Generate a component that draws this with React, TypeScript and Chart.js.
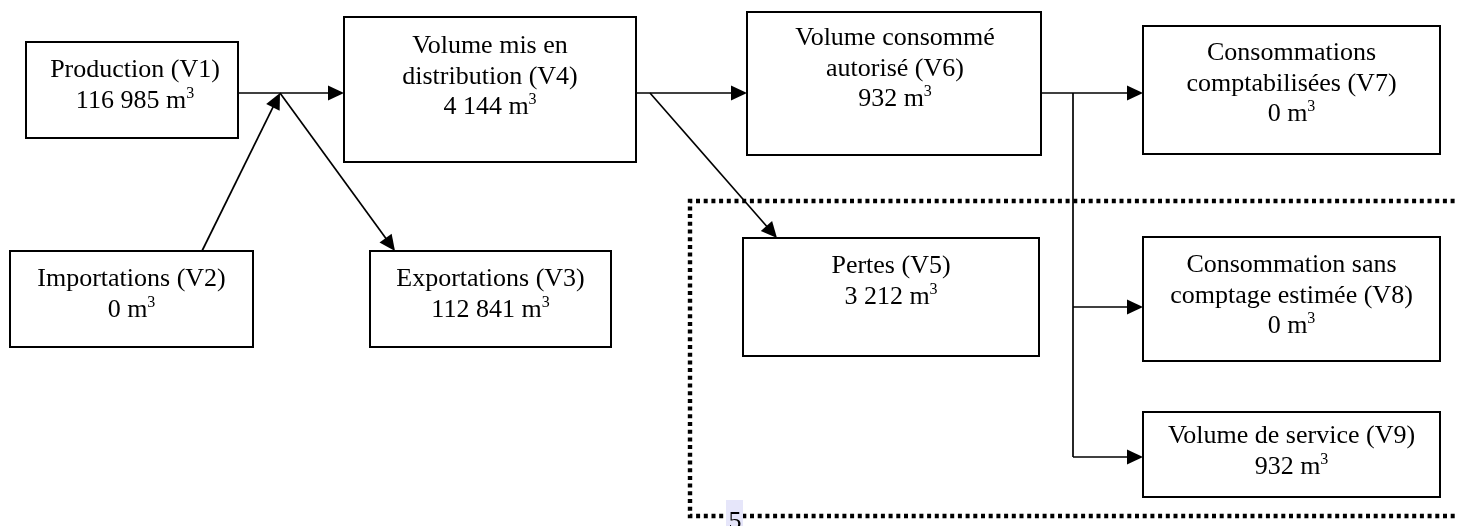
import React, { useEffect, useRef } from "react";
import { Chart, registerables } from "chart.js";

Chart.register(...registerables);

// ---- Data ----
const NODE_IDS = ["V1", "V2", "V3", "V4", "V5", "V6", "V7", "V8", "V9"];
const NODE_LABELS: string[][] = [
  ["Production (V1)"],
  ["Importations (V2)"],
  ["Exportations (V3)"],
  ["Volume mis en", "distribution (V4)"],
  ["Pertes (V5)"],
  ["Volume consommé", "autorisé (V6)"],
  ["Consommations", "comptabilisées (V7)"],
  ["Consommation sans", "comptage estimée (V8)"],
  ["Volume de service (V9)"],
];
const NODE_VALUES = [116985, 0, 112841, 4144, 3212, 932, 0, 0, 932];
const UNIT = "m";
const UNIT_EXP = "3";
const PAGE_NUMBER = "5";

// ---- Layout (diagram coordinates, same units as the hidden scales) ----
const BOX_LAYOUT: Record<string, [number, number, number, number, number, number]> = {
  // left, top, right, bottom, first-baseline offset, text x shift
  V1: [26, 42, 238, 138, 35, 3],
  V2: [10, 251, 253, 347, 35, 0],
  V3: [370, 251, 611, 347, 35, 0],
  V4: [344, 17, 636, 162, 36, 0],
  V5: [743, 238, 1039, 356, 35, 0],
  V6: [747, 12, 1041, 155, 33, 1],
  V7: [1143, 26, 1440, 154, 34, 0],
  V8: [1143, 237, 1440, 361, 35, 0],
  V9: [1143, 412, 1440, 497, 31, 0],
};
const CONNECTORS: [number, number, number, number, boolean][] = [
  [238, 93, 344, 93, true],
  [202, 251, 280, 93, true],
  [280, 93, 395, 251, true],
  [636, 93, 747, 93, true],
  [650, 93, 777, 238, true],
  [1041, 93, 1143, 93, true],
  [1073, 93, 1073, 457, false],
  [1073, 307, 1143, 307, true],
  [1073, 457, 1143, 457, true],
];
const DOTTED_FRAME: [number, number][] = [
  [1470, 201],
  [690, 201],
  [690, 516],
  [1470, 516],
];

const W = 1458;
const H = 526;
const FONT = '"Liberation Serif", "Times New Roman", serif';
const LINE_GAP = 30.5;

function fmt(n: number) {
  return String(n).replace(/\B(?=(\d{3})+(?!\d))/g, " ");
}

const diagramPlugin = {
  id: "diagram",
  afterDatasetsDraw(chart: any) {
    const ctx: CanvasRenderingContext2D = chart.ctx;
    const xs = chart.scales.x;
    const ys = chart.scales.y;
    const px = (v: number) => xs.getPixelForValue(v);
    const py = (v: number) => ys.getPixelForValue(v);
    ctx.save();

    // dotted frame
    ctx.beginPath();
    ctx.setLineDash([4, 3.7]);
    ctx.lineWidth = 4.4;
    ctx.lineCap = "butt";
    ctx.strokeStyle = "#000";
    DOTTED_FRAME.forEach(([x, y], i) => {
      if (i === 0) ctx.moveTo(px(x), py(y));
      else ctx.lineTo(px(x), py(y));
    });
    ctx.stroke();
    ctx.setLineDash([]);

    // page number highlight
    ctx.fillStyle = "#e6e6fa";
    ctx.fillRect(px(726), py(500), px(743) - px(726), py(526) - py(500));
    ctx.fillStyle = "#000";
    ctx.font = `26px ${FONT}`;
    ctx.textAlign = "center";
    ctx.textBaseline = "alphabetic";
    ctx.fillText(PAGE_NUMBER, px(735), py(529));

    // connectors
    ctx.lineWidth = 1.7;
    CONNECTORS.forEach(([x1, y1, x2, y2, arrow]) => {
      const X1 = px(x1), Y1 = py(y1), X2 = px(x2), Y2 = py(y2);
      const ang = Math.atan2(Y2 - Y1, X2 - X1);
      const len = 16, hw = 7.5;
      const ex = arrow ? X2 - Math.cos(ang) * (len - 1) : X2;
      const ey = arrow ? Y2 - Math.sin(ang) * (len - 1) : Y2;
      ctx.beginPath();
      ctx.moveTo(X1, Y1);
      ctx.lineTo(ex, ey);
      ctx.stroke();
      if (arrow) {
        const bx = X2 - Math.cos(ang) * len;
        const by = Y2 - Math.sin(ang) * len;
        ctx.beginPath();
        ctx.moveTo(X2, Y2);
        ctx.lineTo(bx - Math.sin(ang) * hw, by + Math.cos(ang) * hw);
        ctx.lineTo(bx + Math.sin(ang) * hw, by - Math.cos(ang) * hw);
        ctx.closePath();
        ctx.fillStyle = "#000";
        ctx.fill();
      }
    });

    // boxes
    NODE_IDS.forEach((id, i) => {
      const [l, t, r, b, off, shift] = BOX_LAYOUT[id];
      const L = px(l), T = py(t), R = px(r), B = py(b);
      ctx.fillStyle = "#fff";
      ctx.fillRect(L, T, R - L, B - T);
      ctx.lineWidth = 2;
      ctx.strokeStyle = "#000";
      ctx.strokeRect(L, T, R - L, B - T);
      const cx = (L + R) / 2 + shift;
      ctx.fillStyle = "#000";
      ctx.textBaseline = "alphabetic";
      ctx.font = `26px ${FONT}`;
      ctx.textAlign = "center";
      const lines = NODE_LABELS[i];
      let y = T + off;
      lines.forEach((ln) => {
        ctx.fillText(ln, cx, y);
        y += LINE_GAP;
      });
      const main = `${fmt(NODE_VALUES[i])} ${UNIT}`;
      ctx.font = `26px ${FONT}`;
      const w1 = ctx.measureText(main).width;
      ctx.font = `16px ${FONT}`;
      const w2 = ctx.measureText(UNIT_EXP).width;
      const sx = cx - (w1 + w2) / 2;
      ctx.textAlign = "left";
      ctx.font = `26px ${FONT}`;
      ctx.fillText(main, sx, y);
      ctx.font = `16px ${FONT}`;
      ctx.fillText(UNIT_EXP, sx + w1, y - 10);
    });

    ctx.restore();
  },
};

export default function App() {
  const ref = useRef<HTMLCanvasElement | null>(null);
  useEffect(() => {
    if (!ref.current) return;
    const chart = new Chart(ref.current, {
      type: "scatter",
      data: { datasets: [{ data: [], pointRadius: 0 }] },
      options: {
        animation: false,
        responsive: false,
        maintainAspectRatio: false,
        layout: { padding: 0 },
        plugins: { legend: { display: false }, tooltip: { enabled: false } },
        scales: {
          x: { type: "linear", min: 0, max: W, display: false },
          y: { type: "linear", min: 0, max: H, reverse: true, display: false },
        },
      },
      plugins: [diagramPlugin],
    });
    return () => chart.destroy();
  }, []);
  return (
    <div style={{ position: "fixed", left: 0, top: 0, width: W, height: H, background: "#fff" }}>
      <canvas ref={ref} width={W} height={H} style={{ display: "block" }} />
    </div>
  );
}
